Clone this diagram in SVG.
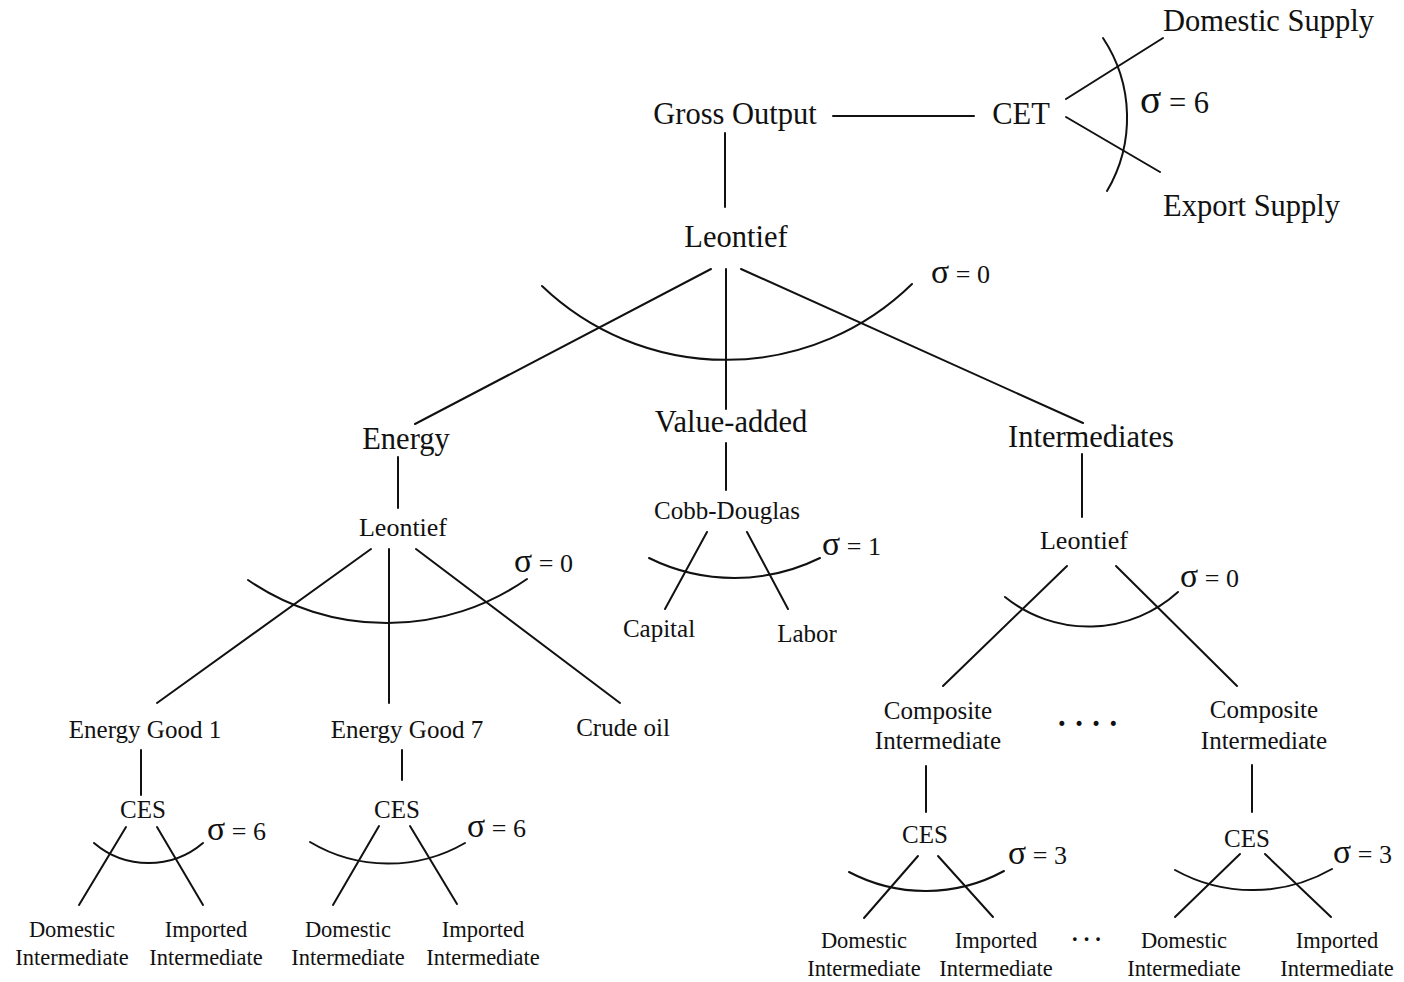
<svg xmlns="http://www.w3.org/2000/svg" width="1404" height="982" viewBox="0 0 1404 982">
<style>
text{font-family:"Liberation Serif","Times New Roman",serif;fill:#111}
.t1{font-size:30.5px}
.t2{font-size:26px}
.t3{font-size:25px}
.t4{font-size:22.5px}
.c{text-anchor:middle}
.s{font-size:1.3em}
.dots{font-weight:bold}
.ln{stroke:#111;stroke-width:2;fill:none;stroke-linecap:round}
</style>
<rect width="1404" height="982" fill="#fff"/>
<g id="connectors" class="ln">
<line x1="833" y1="116" x2="974" y2="116"/>
<line x1="1066" y1="99" x2="1163" y2="38"/>
<line x1="1066" y1="117" x2="1160" y2="172"/>
<path d="M1103,38 A144,144 0 0 1 1107,191"/>
<line x1="725" y1="133" x2="725" y2="207"/>
<line x1="711" y1="269" x2="415" y2="424"/>
<line x1="726" y1="269" x2="726" y2="409"/>
<line x1="741" y1="269" x2="1083" y2="423"/>
<path d="M542,286 A266,266 0 0 0 912,284"/>
<line x1="726" y1="443" x2="726" y2="490"/>
<line x1="398" y1="457" x2="398" y2="508"/>
<line x1="1082" y1="454" x2="1082" y2="517"/>
<line x1="371" y1="549" x2="157" y2="703"/>
<line x1="389" y1="549" x2="389" y2="703"/>
<line x1="416" y1="549" x2="620" y2="703"/>
<path d="M248,580 A245,245 0 0 0 527,579"/>
<line x1="707" y1="532" x2="665" y2="609"/>
<line x1="747" y1="532" x2="788" y2="609"/>
<path d="M649,558 A193,193 0 0 0 820,558"/>
<line x1="1067" y1="566" x2="943" y2="686"/>
<line x1="1116" y1="566" x2="1237" y2="686"/>
<path d="M1005,597 A133,133 0 0 0 1178,592"/>
<line x1="141" y1="750" x2="141" y2="795"/>
<line x1="402" y1="750" x2="402" y2="780"/>
<line x1="126" y1="827" x2="79" y2="905"/>
<line x1="157" y1="827" x2="203" y2="905"/>
<path d="M94,843 A84,84 0 0 0 203,843"/>
<line x1="379" y1="826" x2="333" y2="905"/>
<line x1="410" y1="826" x2="457" y2="904"/>
<path d="M310,842 A153,153 0 0 0 465,843"/>
<line x1="926" y1="766" x2="926" y2="812"/>
<line x1="1252" y1="765" x2="1252" y2="812"/>
<line x1="918" y1="856" x2="864" y2="918"/>
<line x1="938" y1="856" x2="993" y2="917"/>
<path d="M849,872 A164,164 0 0 0 1004,871"/>
<line x1="1240" y1="854" x2="1175" y2="917"/>
<line x1="1265" y1="854" x2="1331" y2="917"/>
<path d="M1175,870 A160,160 0 0 0 1332,869"/>
</g>
<g id="gross-output"><text class="t1 c" x="735" y="124">Gross Output</text></g>
<g id="cet"><text class="t1 c" x="1021" y="124">CET</text><text class="t1" x="1140" y="113"><tspan class="s">σ</tspan> = 6</text></g>
<g id="domestic-supply"><text class="t1" x="1163" y="31">Domestic Supply</text></g>
<g id="export-supply"><text class="t1" x="1163" y="216">Export Supply</text></g>
<g id="leontief-top"><text class="t1 c" x="736" y="247">Leontief</text><text class="t2" x="931" y="283"><tspan class="s">σ</tspan> = 0</text></g>
<g id="energy"><text class="t1 c" x="406" y="449">Energy</text></g>
<g id="value-added"><text class="t1 c" x="731" y="432">Value-added</text></g>
<g id="intermediates"><text class="t1 c" x="1091" y="447">Intermediates</text></g>
<g id="leontief-energy"><text class="t2 c" x="403" y="536">Leontief</text><text class="t2" x="514" y="572"><tspan class="s">σ</tspan> = 0</text></g>
<g id="cobb-douglas"><text class="t3 c" x="727" y="519">Cobb-Douglas</text><text class="t2" x="822" y="555"><tspan class="s">σ</tspan> = 1</text></g>
<g id="capital"><text class="t3 c" x="659" y="637">Capital</text></g>
<g id="labor"><text class="t3 c" x="807" y="642">Labor</text></g>
<g id="leontief-int"><text class="t2 c" x="1084" y="549">Leontief</text><text class="t2" x="1180" y="587"><tspan class="s">σ</tspan> = 0</text></g>
<g id="energy-good-1"><text class="t3 c" x="145" y="738">Energy Good 1</text></g>
<g id="energy-good-7"><text class="t3 c" x="407" y="738">Energy Good 7</text></g>
<g id="crude-oil"><text class="t3 c" x="623" y="736">Crude oil</text></g>
<g id="ces-1"><text class="t3 c" x="143" y="818">CES</text><text class="t2" x="207" y="840"><tspan class="s">σ</tspan> = 6</text></g>
<g id="ces-2"><text class="t3 c" x="397" y="818">CES</text><text class="t2" x="467" y="837"><tspan class="s">σ</tspan> = 6</text></g>
<g id="dom-1"><text class="t4 c" x="72" y="937">Domestic</text><text class="t4 c" x="72" y="965">Intermediate</text></g>
<g id="imp-1"><text class="t4 c" x="206" y="937">Imported</text><text class="t4 c" x="206" y="965">Intermediate</text></g>
<g id="dom-2"><text class="t4 c" x="348" y="937">Domestic</text><text class="t4 c" x="348" y="965">Intermediate</text></g>
<g id="imp-2"><text class="t4 c" x="483" y="937">Imported</text><text class="t4 c" x="483" y="965">Intermediate</text></g>
<g id="composite-1"><text class="t3 c" x="938" y="719">Composite</text><text class="t3 c" x="938" y="749">Intermediate</text></g>
<g id="composite-dots"><text class="t1 dots" x="1058" y="726" letter-spacing="9.5">....</text></g>
<g id="composite-n"><text class="t3 c" x="1264" y="718">Composite</text><text class="t3 c" x="1264" y="749">Intermediate</text></g>
<g id="ces-3"><text class="t3 c" x="925" y="843">CES</text><text class="t2" x="1008" y="864"><tspan class="s">σ</tspan> = 3</text></g>
<g id="ces-4"><text class="t3 c" x="1247" y="847">CES</text><text class="t2" x="1333" y="863"><tspan class="s">σ</tspan> = 3</text></g>
<g id="dom-3"><text class="t4 c" x="864" y="948">Domestic</text><text class="t4 c" x="864" y="976">Intermediate</text></g>
<g id="imp-3"><text class="t4 c" x="996" y="948">Imported</text><text class="t4 c" x="996" y="976">Intermediate</text></g>
<g id="bottom-dots"><text class="t4 dots" x="1072" y="941" letter-spacing="6">...</text></g>
<g id="dom-4"><text class="t4 c" x="1184" y="948">Domestic</text><text class="t4 c" x="1184" y="976">Intermediate</text></g>
<g id="imp-4"><text class="t4 c" x="1337" y="948">Imported</text><text class="t4 c" x="1337" y="976">Intermediate</text></g>
</svg>
